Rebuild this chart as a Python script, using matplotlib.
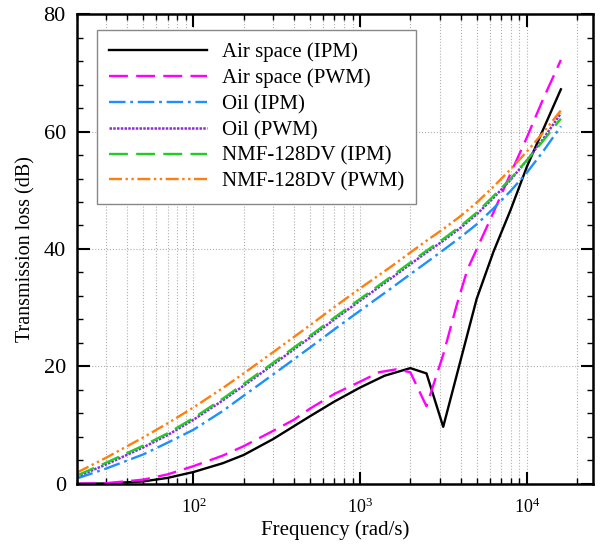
import numpy as np
import matplotlib
matplotlib.use("Agg")
import matplotlib.pyplot as plt
from matplotlib.ticker import LogLocator, MultipleLocator, NullFormatter

plt.rcParams['font.family'] = ['Liberation Serif', 'DejaVu Serif']
plt.rcParams['mathtext.fontset'] = 'custom'
plt.rcParams['mathtext.rm'] = 'Liberation Serif'

# frequency grid shared by the smooth curves (rad/s)
freq = [20, 30, 50, 70, 100, 150, 200, 300, 500, 700, 1000, 1500, 2000,
        2500, 3150, 4000, 5000, 6300, 8000, 10000, 12500, 16000]

oil_ipm = [0.9, 2.6, 5.0, 7.0, 9.2, 12.4, 15.0, 18.6, 23.2, 26.3, 29.5, 33.1,
           35.7, 37.7, 39.8, 42.0, 44.2, 46.9, 49.9, 53.0, 56.6, 60.9]
oil_pwm = [1.2, 3.3, 6.2, 8.3, 10.9, 14.2, 16.7, 20.3, 24.9, 28.0, 31.2, 34.8,
           37.4, 39.4, 41.4, 43.6, 45.9, 48.7, 51.8, 55.1, 58.7, 63.1]
nmf_ipm = [1.4, 3.6, 6.5, 8.6, 11.2, 14.5, 17.0, 20.6, 25.2, 28.3, 31.5, 35.1,
           37.7, 39.7, 41.7, 43.9, 46.2, 49.0, 52.0, 55.1, 58.4, 62.2]
nmf_pwm = [1.9, 4.45, 7.9, 10.3, 13.0, 16.3, 18.8, 22.4, 27.0, 30.1, 33.3, 36.8,
           39.4, 41.4, 43.4, 45.6, 47.9, 50.6, 53.6, 56.6, 59.8, 63.6]

freq_air_ipm = [20, 30, 50, 70, 100, 150, 200, 300, 400, 500, 700, 1000, 1400,
                2000, 2500, 3150, 5000, 6300, 8000, 10000, 12500, 16000]
air_ipm = [0.0, 0.05, 0.4, 1.0, 2.0, 3.5, 4.9, 7.6, 9.8, 11.5, 14.0, 16.4, 18.4,
           19.7, 18.8, 9.7, 31.5, 39.5, 46.7, 54.0, 60.3, 67.2]

freq_air_pwm = [20, 30, 50, 70, 100, 150, 200, 300, 400, 500, 700, 1000, 1300,
                1650, 2000, 2500, 3150, 3800, 4400, 6300, 8000, 10000, 12500, 16000]
air_pwm = [0.0, 0.1, 0.7, 1.6, 3.0, 4.8, 6.4, 9.0, 10.9, 12.8, 15.3, 17.4, 19.0,
           19.5, 19.0, 13.2, 22.0, 30.5, 36.5, 46.2, 52.9, 59.0, 65.5, 72.2]

fig, ax = plt.subplots(figsize=(6.01, 5.46), dpi=100)
fig.subplots_adjust(left=0.128, right=0.987, bottom=0.114, top=0.974)

ax.plot(freq_air_ipm, air_ipm, color='black', lw=1.7, label='Air space (IPM)')
ax.plot(freq_air_pwm, air_pwm, color='#ff00ff', lw=1.7, ls=(0, (8, 3.5)),
        label='Air space (PWM)')
ax.plot(freq, oil_ipm, color='#1e8fff', lw=1.7, ls=(0, (7, 2, 1.2, 2)),
        label='Oil (IPM)')
ax.plot(freq, oil_pwm, color='#8a2be2', lw=1.8, ls=(0, (1, 0.5)),
        label='Oil (PWM)')
ax.plot(freq, nmf_ipm, color='#22cc22', lw=1.7, ls=(0, (8, 3.5)),
        label='NMF-128DV (IPM)')
ax.plot(freq, nmf_pwm, color='#ff7f0e', lw=1.7,
        ls=(0, (5.5, 1.5, 1, 1.5, 1, 1.5)), label='NMF-128DV (PWM)')

ax.set_xscale('log')
ax.set_xlim(20, 25000)
ax.set_ylim(0, 80)
ax.xaxis.set_major_locator(LogLocator(base=10, numticks=10))
ax.xaxis.set_minor_locator(LogLocator(base=10, subs=np.arange(2, 10), numticks=20))
ax.xaxis.set_minor_formatter(NullFormatter())
ax.yaxis.set_major_locator(MultipleLocator(20))
ax.yaxis.set_minor_locator(MultipleLocator(4))

ax.grid(True, which='both', axis='x', ls=':', color='#b0b0b0', lw=0.8)
ax.grid(True, which='major', axis='y', ls=':', color='#b0b0b0', lw=0.8)

ax.tick_params(which='both', direction='in', top=True, right=True, width=1.5)
ax.tick_params(which='major', length=9)
ax.tick_params(which='minor', length=4.5, width=1.0)
ax.tick_params(axis='x', labelsize=13, pad=10)
ax.tick_params(axis='y', labelsize=16, pad=8)
for s in ax.spines.values():
    s.set_linewidth(1.8)

ax.set_xlabel('Frequency (rad/s)', fontsize=15, labelpad=2)
ax.set_ylabel('Transmission loss (dB)', fontsize=14.5, labelpad=6)

leg = ax.legend(loc='upper left', bbox_to_anchor=(0.038, 0.966), fontsize=15,
                handlelength=4.7, handletextpad=0.7, labelspacing=0.3,
                borderpad=0.6, borderaxespad=0, fancybox=False, framealpha=1)
leg.get_frame().set_edgecolor('#888888')
leg.get_frame().set_linewidth(1.0)

fig.savefig('out.png', dpi=100)
